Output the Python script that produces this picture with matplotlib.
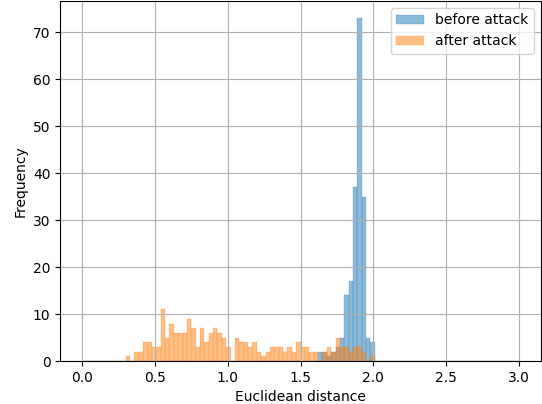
import numpy as np
import matplotlib.pyplot as plt

# histogram counts, 100 bins over [0, 3]
n_bins = 100
hist_range = (0.0, 3.0)

# "before attack": bins 54..66
before_start = 54
before_counts = [2, 2, 1, 2, 3, 5, 14, 17, 37, 73, 35, 5, 4]

# "after attack": bins 10..66
after_start = 10
after_counts = [1, 0, 2, 2, 4, 4, 3, 3, 11, 5,
                8, 6, 6, 6, 9, 7, 3, 7, 4, 6,
                7, 6, 5, 3, 0, 5, 4, 4, 3, 4,
                2, 1, 2, 3, 3, 3, 2, 3, 2, 4,
                3, 3, 2, 2, 0, 2, 3, 2, 5, 3,
                3, 2, 3, 3, 2, 0, 1]

edges = np.linspace(hist_range[0], hist_range[1], n_bins + 1)
centers = (edges[:-1] + edges[1:]) / 2


def full(start, counts):
    w = np.zeros(n_bins)
    w[start:start + len(counts)] = counts
    return w


fig = plt.figure(figsize=(5.42, 4.04), dpi=100)
ax = fig.add_axes([0.111, 0.106, 0.887, 0.892])

ax.hist(centers, bins=edges, weights=full(before_start, before_counts), alpha=0.5,
        edgecolor='C0', linewidth=0.3, label='before attack')
ax.hist(centers, bins=edges, weights=full(after_start, after_counts), alpha=0.5,
        edgecolor='C1', linewidth=0.3, label='after attack')

ax.set_xlabel('Euclidean distance')
ax.set_ylabel('Frequency')
ax.grid(True)
ax.legend(loc='upper right')

fig.savefig('out.png', dpi=100)
